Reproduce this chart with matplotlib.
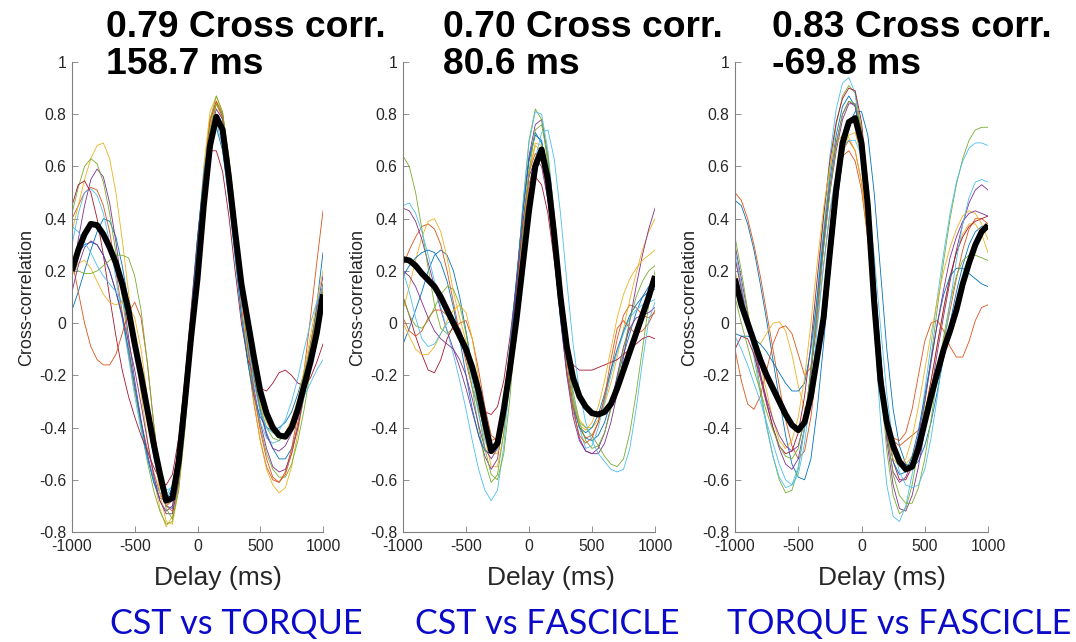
import matplotlib
matplotlib.use('Agg')
import matplotlib.pyplot as plt

plt.rcParams['font.family'] = ['Liberation Sans', 'DejaVu Sans']

# lag grid shared by every cross-correlation trace (ms)
delay = list(range(-1000, 1001, 50))

# MATLAB default colour order for the single-trial traces
colours = ['#0072BD', '#D95319', '#EDB120', '#7E2F8E', '#77AC30', '#4DBEEE', '#A2142F']

peak_corr = ['0.79', '0.70', '0.83']
peak_lag = ['158.7', '80.6', '-69.8']
pair_names = ['CST vs TORQUE', 'CST vs FASCICLE', 'TORQUE vs FASCICLE']

yticks = [-0.8, -0.6, -0.4, -0.2, 0, 0.2, 0.4, 0.6, 0.8, 1]
ytick_labels = ['-0.8', '-0.6', '-0.4', '-0.2', '0', '0.2', '0.4', '0.6', '0.8', '1']
xticks = [-1000, -500, 0, 500, 1000]
xtick_labels = ['-1000', '-500', '0', '500', '1000']

###############################################################################
# CST vs TORQUE
cst_torque_mean = [0.20, 0.28, 0.34, 0.38, 0.375, 0.34, 0.29, 0.23, 0.15, 0.05,
                   -0.08, -0.20, -0.33, -0.46, -0.575, -0.68, -0.67, -0.53, -0.30, -0.05,
                   0.17, 0.45, 0.68, 0.79, 0.74, 0.56, 0.35, 0.15, 0.01, -0.13,
                   -0.26, -0.345, -0.40, -0.43, -0.435, -0.40, -0.33, -0.24, -0.15, -0.04, 0.11]
cst_torque_trials = [
    [0.05, 0.12, 0.20, 0.28, 0.35, 0.40, 0.39, 0.33, 0.22, 0.08, -0.07, -0.22, -0.37, -0.51, -0.62, -0.70, -0.71, -0.58, -0.34, -0.06,
     0.20, 0.47, 0.68, 0.78, 0.73, 0.55, 0.33, 0.12, -0.05, -0.20, -0.33, -0.42, -0.48, -0.52, -0.52, -0.48, -0.40, -0.28, -0.12, 0.07, 0.27],
    [0.40, 0.45, 0.50, 0.52, 0.51, 0.45, 0.35, 0.20, 0.04, -0.12, -0.26, -0.38, -0.48, -0.57, -0.65, -0.70, -0.68, -0.54, -0.30, -0.02,
     0.28, 0.57, 0.78, 0.85, 0.78, 0.58, 0.32, 0.07, -0.14, -0.31, -0.45, -0.55, -0.60, -0.61, -0.57, -0.48, -0.35, -0.18, 0.02, 0.23, 0.43],
    [0.35, 0.45, 0.55, 0.63, 0.68, 0.69, 0.63, 0.50, 0.32, 0.12, -0.08, -0.27, -0.44, -0.59, -0.71, -0.78, -0.74, -0.58, -0.32, -0.02,
     0.30, 0.60, 0.81, 0.87, 0.80, 0.60, 0.35, 0.10, -0.12, -0.30, -0.45, -0.56, -0.62, -0.65, -0.63, -0.55, -0.42, -0.27, -0.12, 0.02, 0.15],
    [0.18, 0.32, 0.45, 0.55, 0.59, 0.56, 0.46, 0.31, 0.13, -0.05, -0.22, -0.37, -0.50, -0.60, -0.68, -0.72, -0.70, -0.56, -0.32, -0.04,
     0.25, 0.53, 0.75, 0.84, 0.79, 0.61, 0.37, 0.13, -0.08, -0.25, -0.38, -0.48, -0.55, -0.57, -0.56, -0.50, -0.40, -0.27, -0.12, 0.02, 0.15],
    [0.42, 0.52, 0.60, 0.63, 0.61, 0.54, 0.42, 0.27, 0.10, -0.08, -0.25, -0.40, -0.53, -0.64, -0.72, -0.77, -0.76, -0.62, -0.36, -0.05,
     0.26, 0.56, 0.78, 0.87, 0.81, 0.63, 0.38, 0.12, -0.10, -0.27, -0.40, -0.50, -0.56, -0.59, -0.59, -0.54, -0.45, -0.33, -0.18, -0.02, 0.14],
    [0.30, 0.42, 0.50, 0.515, 0.49, 0.42, 0.31, 0.17, 0.02, -0.13, -0.28, -0.41, -0.52, -0.60, -0.65, -0.66, -0.62, -0.48, -0.25, 0.03,
     0.32, 0.58, 0.75, 0.77, 0.68, 0.49, 0.26, 0.04, -0.14, -0.28, -0.38, -0.44, -0.46, -0.45, -0.42, -0.38, -0.33, -0.28, -0.23, -0.18, -0.14],
    [0.45, 0.53, 0.545, 0.50, 0.40, 0.26, 0.10, -0.05, -0.18, -0.28, -0.36, -0.43, -0.49, -0.55, -0.60, -0.62, -0.58, -0.44, -0.21, 0.06,
     0.33, 0.55, 0.66, 0.66, 0.58, 0.41, 0.20, 0.00, -0.14, -0.20, -0.25, -0.26, -0.23, -0.19, -0.18, -0.20, -0.23, -0.24, -0.21, -0.15, -0.08],
    [0.22, 0.27, 0.30, 0.31, 0.30, 0.26, 0.20, 0.12, 0.02, -0.10, -0.24, -0.38, -0.51, -0.61, -0.67, -0.68, -0.63, -0.47, -0.24, 0.04,
     0.32, 0.57, 0.73, 0.75, 0.66, 0.47, 0.25, 0.03, -0.15, -0.28, -0.36, -0.40, -0.41, -0.40, -0.38, -0.34, -0.27, -0.19, -0.10, -0.02, 0.06],
    [0.24, 0.12, 0.00, -0.09, -0.14, -0.16, -0.16, -0.12, -0.04, 0.04, 0.08, 0.02, -0.15, -0.38, -0.58, -0.70, -0.72, -0.60, -0.36, -0.06,
     0.25, 0.55, 0.77, 0.85, 0.80, 0.62, 0.38, 0.13, -0.09, -0.27, -0.41, -0.52, -0.59, -0.61, -0.58, -0.50, -0.38, -0.24, -0.10, 0.02, 0.12],
    [0.18, 0.23, 0.24, 0.21, 0.16, 0.11, 0.08, 0.07, 0.08, 0.07, 0.02, -0.10, -0.28, -0.47, -0.65, -0.76, -0.77, -0.64, -0.40, -0.10,
     0.22, 0.52, 0.75, 0.84, 0.78, 0.60, 0.36, 0.12, -0.06, -0.20, -0.31, -0.38, -0.42, -0.43, -0.42, -0.37, -0.29, -0.18, -0.05, 0.08, 0.20],
    [0.12, 0.22, 0.29, 0.315, 0.30, 0.26, 0.20, 0.12, 0.03, -0.07, -0.18, -0.31, -0.45, -0.58, -0.68, -0.73, -0.73, -0.61, -0.38, -0.09,
     0.21, 0.50, 0.72, 0.82, 0.78, 0.62, 0.40, 0.17, -0.04, -0.21, -0.34, -0.43, -0.48, -0.49, -0.47, -0.42, -0.33, -0.21, -0.08, 0.05, 0.18],
    [0.22, 0.20, 0.19, 0.19, 0.20, 0.22, 0.24, 0.26, 0.26, 0.25, 0.18, 0.05, -0.15, -0.38, -0.58, -0.71, -0.75, -0.64, -0.41, -0.11,
     0.21, 0.51, 0.74, 0.84, 0.80, 0.64, 0.42, 0.18, -0.03, -0.20, -0.32, -0.40, -0.44, -0.45, -0.43, -0.38, -0.30, -0.20, -0.08, 0.04, 0.15],
    [0.37, 0.35, 0.31, 0.27, 0.22, 0.18, 0.15, 0.12, 0.08, 0.02, -0.07, -0.19, -0.33, -0.47, -0.58, -0.64, -0.63, -0.51, -0.30, -0.03,
     0.25, 0.52, 0.72, 0.80, 0.76, 0.60, 0.38, 0.14, -0.07, -0.23, -0.34, -0.40, -0.42, -0.41, -0.37, -0.30, -0.21, -0.10, 0.00, 0.08, 0.14],
]

###############################################################################
# CST vs FASCICLE
cst_fascicle_mean = [0.245, 0.24, 0.22, 0.19, 0.165, 0.14, 0.10, 0.05, 0.00, -0.05,
                     -0.10, -0.17, -0.26, -0.38, -0.49, -0.46, -0.33, -0.17, 0.01, 0.22,
                     0.43, 0.60, 0.665, 0.55, 0.34, 0.10, -0.09, -0.21, -0.28, -0.32,
                     -0.345, -0.35, -0.34, -0.31, -0.25, -0.18, -0.11, -0.04, 0.03, 0.10, 0.18]
cst_fascicle_trials = [
    [-0.08, -0.02, 0.05, 0.12, 0.20, 0.26, 0.28, 0.26, 0.20, 0.10, -0.03, -0.17, -0.31, -0.43, -0.50, -0.47, -0.33, -0.11, 0.15, 0.42,
     0.63, 0.73, 0.69, 0.52, 0.27, 0.01, -0.19, -0.32, -0.40, -0.44, -0.45, -0.43, -0.38, -0.30, -0.21, -0.12, -0.04, 0.04, 0.10, 0.14, 0.16],
    [0.22, 0.28, 0.33, 0.37, 0.38, 0.36, 0.30, 0.20, 0.08, -0.04, -0.15, -0.25, -0.33, -0.40, -0.45, -0.44, -0.33, -0.14, 0.10, 0.34,
     0.53, 0.63, 0.62, 0.50, 0.30, 0.07, -0.14, -0.30, -0.40, -0.44, -0.43, -0.38, -0.29, -0.18, -0.06, 0.03, 0.07, 0.06, 0.03, 0.02, 0.04],
    [0.05, 0.14, 0.24, 0.33, 0.39, 0.40, 0.35, 0.25, 0.12, 0.02, -0.07, -0.17, -0.30, -0.44, -0.55, -0.55, -0.42, -0.20, 0.07, 0.35,
     0.57, 0.68, 0.66, 0.52, 0.30, 0.05, -0.15, -0.29, -0.37, -0.40, -0.40, -0.37, -0.31, -0.23, -0.13, -0.02, 0.09, 0.19, 0.28, 0.35, 0.40],
    [0.44, 0.43, 0.39, 0.32, 0.23, 0.14, 0.05, -0.03, -0.10, -0.17, -0.25, -0.34, -0.43, -0.51, -0.56, -0.52, -0.36, -0.12, 0.16, 0.43,
     0.64, 0.76, 0.78, 0.64, 0.40, 0.12, -0.13, -0.32, -0.44, -0.49, -0.50, -0.50, -0.46, -0.38, -0.27, -0.13, 0.01, 0.14, 0.26, 0.36, 0.44],
    [0.64, 0.60, 0.50, 0.36, 0.21, 0.07, -0.02, -0.04, -0.02, -0.04, -0.12, -0.25, -0.40, -0.53, -0.61, -0.58, -0.42, -0.16, 0.14, 0.45,
     0.70, 0.82, 0.78, 0.61, 0.35, 0.06, -0.18, -0.32, -0.38, -0.40, -0.43, -0.47, -0.51, -0.54, -0.55, -0.52, -0.42, -0.27, -0.10, 0.07, 0.20],
    [0.45, 0.46, 0.42, 0.35, 0.26, 0.16, 0.06, -0.03, -0.12, -0.22, -0.33, -0.45, -0.56, -0.64, -0.68, -0.64, -0.47, -0.20, 0.12, 0.44,
     0.69, 0.81, 0.80, 0.66, 0.42, 0.15, -0.10, -0.28, -0.40, -0.48, -0.47, -0.40, -0.30, -0.20, -0.11, -0.04, 0.02, 0.05, 0.07, 0.08, 0.09],
    [0.10, 0.03, -0.05, -0.12, -0.18, -0.19, -0.14, -0.06, -0.01, -0.02, -0.09, -0.20, -0.30, -0.34, -0.35, -0.32, -0.22, -0.05, 0.15, 0.35,
     0.50, 0.56, 0.53, 0.42, 0.24, 0.04, -0.10, -0.16, -0.18, -0.18, -0.18, -0.17, -0.16, -0.15, -0.14, -0.12, -0.10, -0.08, -0.06, -0.05, -0.06],
    [0.18, 0.22, 0.25, 0.27, 0.28, 0.27, 0.23, 0.16, 0.06, -0.06, -0.20, -0.33, -0.43, -0.49, -0.50, -0.45, -0.30, -0.08, 0.17, 0.42,
     0.62, 0.72, 0.70, 0.57, 0.35, 0.10, -0.13, -0.30, -0.40, -0.42, -0.40, -0.35, -0.27, -0.18, -0.10, -0.03, 0.03, 0.07, 0.10, 0.12, 0.13],
    [0.02, -0.03, -0.05, -0.03, 0.02, 0.05, 0.05, 0.03, -0.02, 0.00, 0.01, -0.06, -0.18, -0.32, -0.43, -0.45, -0.35, -0.15, 0.11, 0.38,
     0.58, 0.65, 0.62, 0.48, 0.27, 0.03, -0.18, -0.34, -0.43, -0.46, -0.44, -0.38, -0.28, -0.14, -0.02, 0.01, -0.02, -0.04, -0.03, 0.00, 0.05],
    [0.00, -0.05, -0.10, -0.12, -0.12, -0.09, -0.04, 0.01, 0.05, 0.07, 0.04, -0.06, -0.21, -0.38, -0.50, -0.50, -0.38, -0.16, 0.10, 0.37,
     0.58, 0.69, 0.68, 0.56, 0.35, 0.10, -0.13, -0.30, -0.39, -0.41, -0.38, -0.32, -0.22, -0.10, 0.02, 0.11, 0.17, 0.21, 0.24, 0.26, 0.28],
    [0.20, 0.18, 0.14, 0.08, 0.02, -0.03, -0.06, -0.08, -0.10, -0.14, -0.20, -0.29, -0.39, -0.48, -0.52, -0.48, -0.34, -0.13, 0.13, 0.38,
     0.56, 0.63, 0.60, 0.47, 0.26, 0.02, -0.20, -0.36, -0.45, -0.49, -0.50, -0.48, -0.42, -0.32, -0.20, -0.09, -0.02, 0.02, 0.03, 0.04, 0.06],
    [0.10, 0.03, -0.01, -0.02, 0.01, 0.06, 0.11, 0.14, 0.13, 0.07, -0.04, -0.18, -0.34, -0.48, -0.58, -0.60, -0.50, -0.28, 0.02, 0.33,
     0.58, 0.74, 0.76, 0.64, 0.42, 0.16, -0.08, -0.26, -0.38, -0.45, -0.48, -0.47, -0.42, -0.33, -0.22, -0.10, 0.01, 0.10, 0.16, 0.20, 0.22],
    [0.20, 0.12, 0.02, -0.06, -0.09, -0.08, -0.04, 0.00, 0.01, -0.03, -0.11, -0.22, -0.35, -0.45, -0.50, -0.48, -0.38, -0.21, 0.00, 0.23,
     0.45, 0.63, 0.73, 0.74, 0.63, 0.42, 0.16, -0.08, -0.26, -0.38, -0.45, -0.50, -0.53, -0.56, -0.57, -0.56, -0.48, -0.33, -0.15, 0.01, 0.08],
]

###############################################################################
# TORQUE vs FASCICLE
torque_fascicle_mean = [0.17, 0.07, 0.00, -0.07, -0.14, -0.20, -0.25, -0.30, -0.35, -0.39,
                        -0.41, -0.38, -0.28, -0.13, 0.02, 0.27, 0.51, 0.69, 0.77, 0.785,
                        0.69, 0.45, 0.08, -0.22, -0.38, -0.47, -0.53, -0.56, -0.55, -0.48,
                        -0.38, -0.28, -0.19, -0.10, -0.03, 0.05, 0.15, 0.23, 0.30, 0.35, 0.375]
torque_fascicle_trials = [
    [0.47, 0.45, 0.38, 0.28, 0.15, 0.01, -0.14, -0.29, -0.43, -0.54, -0.59, -0.60, -0.52, -0.33, -0.08, 0.19, 0.43, 0.63, 0.76, 0.81,
     0.81, 0.72, 0.50, 0.20, -0.10, -0.33, -0.47, -0.54, -0.55, -0.53, -0.47, -0.38, -0.26, -0.13, 0.00, 0.12, 0.22, 0.30, 0.35, 0.37, 0.36],
    [0.50, 0.47, 0.40, 0.30, 0.18, 0.04, -0.10, -0.24, -0.37, -0.47, -0.52, -0.49, -0.36, -0.16, 0.08, 0.32, 0.53, 0.66, 0.70, 0.66,
     0.54, 0.34, 0.08, -0.18, -0.36, -0.45, -0.47, -0.45, -0.43, -0.41, -0.36, -0.28, -0.18, -0.07, 0.05, 0.17, 0.28, 0.36, 0.40, 0.40, 0.38],
    [0.25, 0.14, 0.02, -0.06, -0.08, -0.04, 0.00, 0.005, -0.03, -0.12, -0.24, -0.33, -0.30, -0.15, 0.08, 0.30, 0.50, 0.65, 0.72, 0.73,
     0.64, 0.44, 0.14, -0.15, -0.36, -0.48, -0.53, -0.54, -0.51, -0.44, -0.34, -0.22, -0.08, 0.05, 0.17, 0.27, 0.34, 0.38, 0.38, 0.34, 0.27],
    [0.30, 0.17, 0.04, -0.08, -0.19, -0.30, -0.40, -0.48, -0.54, -0.56, -0.52, -0.40, -0.20, 0.04, 0.29, 0.50, 0.66, 0.78, 0.84, 0.84,
     0.74, 0.50, 0.16, -0.19, -0.45, -0.62, -0.71, -0.72, -0.66, -0.55, -0.41, -0.26, -0.11, 0.03, 0.16, 0.28, 0.38, 0.46, 0.51, 0.53, 0.51],
    [0.33, 0.20, 0.05, -0.10, -0.25, -0.39, -0.51, -0.60, -0.65, -0.64, -0.56, -0.40, -0.17, 0.09, 0.35, 0.58, 0.76, 0.87, 0.91, 0.88,
     0.74, 0.48, 0.13, -0.22, -0.49, -0.66, -0.73, -0.71, -0.62, -0.48, -0.31, -0.13, 0.06, 0.24, 0.40, 0.53, 0.63, 0.70, 0.74, 0.75, 0.75],
    [0.28, 0.15, 0.01, -0.13, -0.27, -0.40, -0.51, -0.59, -0.63, -0.62, -0.55, -0.40, -0.17, 0.11, 0.40, 0.64, 0.82, 0.92, 0.94, 0.88,
     0.68, 0.36, -0.01, -0.37, -0.62, -0.74, -0.76, -0.70, -0.58, -0.43, -0.26, -0.08, 0.10, 0.27, 0.42, 0.54, 0.62, 0.67, 0.69, 0.69, 0.68],
    [-0.10, -0.05, -0.06, -0.12, -0.21, -0.31, -0.40, -0.47, -0.50, -0.49, -0.42, -0.28, -0.08, 0.17, 0.41, 0.62, 0.77, 0.86, 0.90, 0.89,
     0.77, 0.53, 0.21, -0.12, -0.37, -0.53, -0.60, -0.60, -0.55, -0.46, -0.35, -0.22, -0.08, 0.06, 0.18, 0.27, 0.33, 0.37, 0.39, 0.40, 0.41],
    [-0.04, -0.05, -0.05, -0.06, -0.08, -0.11, -0.15, -0.19, -0.23, -0.26, -0.26, -0.23, -0.10, 0.10, 0.33, 0.55, 0.72, 0.83, 0.87, 0.83,
     0.68, 0.44, 0.13, -0.17, -0.40, -0.53, -0.58, -0.57, -0.51, -0.41, -0.28, -0.14, 0.00, 0.11, 0.18, 0.21, 0.21, 0.19, 0.17, 0.15, 0.14],
    [-0.10, -0.22, -0.31, -0.33, -0.28, -0.18, -0.08, -0.02, -0.01, -0.04, -0.12, -0.20, -0.17, 0.00, 0.22, 0.42, 0.57, 0.64, 0.66, 0.62,
     0.51, 0.32, 0.07, -0.18, -0.36, -0.44, -0.45, -0.42, -0.33, -0.20, -0.07, 0.00, 0.01, -0.03, -0.09, -0.13, -0.13, -0.07, 0.01, 0.06, 0.07],
    [0.20, 0.10, 0.00, -0.08, -0.16, -0.26, -0.37, -0.45, -0.48, -0.45, -0.36, -0.21, 0.00, 0.23, 0.44, 0.60, 0.69, 0.72, 0.71, 0.66,
     0.54, 0.33, 0.06, -0.22, -0.42, -0.52, -0.55, -0.52, -0.44, -0.32, -0.18, -0.04, 0.09, 0.20, 0.29, 0.36, 0.41, 0.43, 0.42, 0.38, 0.32],
    [0.25, 0.13, 0.00, -0.10, -0.20, -0.29, -0.37, -0.43, -0.47, -0.49, -0.47, -0.37, -0.19, 0.05, 0.30, 0.52, 0.69, 0.80, 0.85, 0.83,
     0.71, 0.47, 0.14, -0.19, -0.43, -0.57, -0.61, -0.59, -0.53, -0.43, -0.30, -0.15, 0.00, 0.13, 0.25, 0.33, 0.39, 0.42, 0.43, 0.42, 0.41],
    [0.10, 0.00, -0.09, -0.18, -0.26, -0.34, -0.41, -0.47, -0.51, -0.52, -0.48, -0.37, -0.19, 0.04, 0.28, 0.50, 0.68, 0.80, 0.85, 0.84,
     0.74, 0.52, 0.19, -0.15, -0.41, -0.58, -0.66, -0.69, -0.69, -0.63, -0.52, -0.37, -0.20, -0.05, 0.08, 0.18, 0.24, 0.26, 0.26, 0.25, 0.24],
    [-0.05, -0.10, -0.16, -0.23, -0.30, -0.38, -0.46, -0.54, -0.60, -0.62, -0.58, -0.46, -0.26, -0.02, 0.22, 0.43, 0.58, 0.67, 0.70, 0.70,
     0.64, 0.49, 0.26, -0.01, -0.27, -0.46, -0.57, -0.62, -0.63, -0.62, -0.56, -0.44, -0.28, -0.10, 0.08, 0.24, 0.38, 0.48, 0.54, 0.55, 0.54],
]

means = [cst_torque_mean, cst_fascicle_mean, torque_fascicle_mean]
trials = [cst_torque_trials, cst_fascicle_trials, torque_fascicle_trials]

# panel placement in pixels of a 1076 x 642 canvas
W, H = 1076, 642
ax_left = [72, 403, 735]
ax_width = [251, 252, 253]
ax_top, ax_bottom = 62, 532
title_x = [106, 443, 772]
xlabel_x = [218, 551, 882]
name_x = [110, 415, 727]

fig = plt.figure(figsize=(W / 100, H / 100), dpi=100)

for i in range(3):
    ax = fig.add_axes([ax_left[i] / W, 1 - ax_bottom / H,
                       ax_width[i] / W, (ax_bottom - ax_top) / H])

    # single trials, then the average on top
    for k, tr in enumerate(trials[i]):
        ax.plot(delay, tr, color=colours[k % len(colours)], lw=0.6)
    ax.plot(delay, means[i], color='black', lw=4.3, solid_capstyle='butt')

    ax.set_xlim(-1000, 1000)
    ax.set_ylim(-0.8, 1)
    ax.set_xticks(xticks)
    ax.set_xticklabels(xtick_labels)
    ax.set_yticks(yticks)
    ax.set_yticklabels(ytick_labels)
    ax.tick_params(direction='in', length=4, width=0.6, colors='#808080',
                   labelcolor='#262626', labelsize=11.3)
    ax.tick_params(axis='x', pad=5)
    ax.tick_params(axis='y', pad=4)
    for side in ['top', 'right']:
        ax.spines[side].set_visible(False)
    for side in ['left', 'bottom']:
        ax.spines[side].set_color('#808080')
        ax.spines[side].set_linewidth(0.8)

    # y label
    fig.text((ax_left[i] - 45) / W, 1 - 297 / H, 'Cross-correlation',
             rotation=90, ha='center', va='center', fontsize=13, color='#262626')
    # x label
    fig.text(xlabel_x[i] / W, 1 - 585 / H, 'Delay (ms)', ha='center',
             va='baseline', fontsize=19, color='#262626')
    # peak value and lag of the average
    fig.text(title_x[i] / W, 1 - 37 / H, peak_corr[i] + ' Cross corr.',
             ha='left', va='baseline', fontsize=26.8, fontweight='bold')
    fig.text(title_x[i] / W, 1 - 74 / H, peak_lag[i] + ' ms',
             ha='left', va='baseline', fontsize=26.8, fontweight='bold')
    # which signals are compared
    fig.text(name_x[i] / W, 1 - 634 / H, pair_names[i], ha='left',
             va='baseline', fontsize=24.6, color='#0A0AC8', family=['Lato', 'DejaVu Sans'])

plt.savefig('out.png', dpi=100)
plt.close()
